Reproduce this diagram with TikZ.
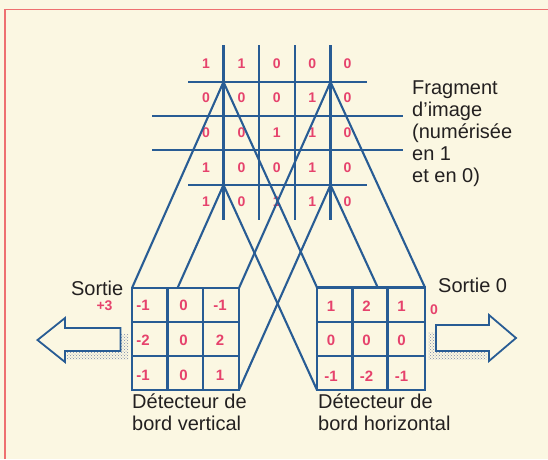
\documentclass[tikz,border=0pt]{standalone}
\usepackage{fontspec}
\setmainfont{Liberation Sans}
\usetikzlibrary{patterns}
\definecolor{bgc}{RGB}{251,247,226}
\definecolor{lblue}{RGB}{40,92,148}
\definecolor{dpink}{RGB}{230,66,108}
\definecolor{framered}{RGB}{238,112,112}
\definecolor{ink}{RGB}{35,32,32}
\definecolor{shade}{RGB}{120,135,170}
\begin{document}
\begin{tikzpicture}[x=1pt,y=-1pt,
  bl/.style={draw=lblue,line width=2.1pt},
  dig/.style={text=dpink,font=\fontsize{14}{16}\selectfont\bfseries,inner sep=0},
  kdig/.style={text=dpink,font=\fontsize{15}{17}\selectfont\bfseries,inner sep=0},
  lbl/.style={text=ink,font=\fontsize{20}{22}\selectfont,inner sep=0,align=left},
  cellbox/.style={draw=lblue,line width=2.1pt,fill=bgc},
  arrowshape/.style={draw=lblue,line width=1.8pt,fill=bgc,line join=miter},
  shadowfill/.style={pattern=crosshatch dots,pattern color=shade}
]
\fill[bgc] (0,0) rectangle (548,459);
\useasboundingbox (0,0) rectangle (548,459);
\draw[framered,line width=1.4pt] (5,459) -- (5,9.5) -- (548,9.5);

% image fragment grid
\foreach \x in {223.5,259,295,330.5} \draw[bl] (\x,45) -- (\x,220);
\draw[bl] (188,82) -- (367,82);
\draw[bl] (152,116) -- (403,116);
\draw[bl] (152,150) -- (403,150);
\draw[bl] (188,185) -- (367,185);

% digits of the fragment
\foreach \row [count=\r] in {{1,1,0,0,0},{0,0,0,1,0},{0,0,1,1,0},{1,0,0,1,0},{1,0,1,1,0}}{
  \foreach \v [count=\c] in \row {
    \pgfmathsetmacro{\gx}{206+35.4*(\c-1)}
    \pgfmathsetmacro{\gy}{63.5+34.6*(\r-1)}
    \node[dig] (g\r\c) at (\gx,\gy) {\v};
  }
}

% corners of the 3x3 region and of the two detectors
\coordinate (rTL) at (223.5,82);
\coordinate (rTR) at (330.5,82);
\coordinate (rBL) at (223.5,185);
\coordinate (rBR) at (330.5,185);
\coordinate (lTL) at (132,288);
\coordinate (lTR) at (239,288);
\coordinate (lBL) at (132,390);
\coordinate (lBR) at (239,390);
\coordinate (hTL) at (317,287.5);
\coordinate (hTR) at (425,287.5);
\coordinate (hBL) at (317,390);
\coordinate (hBR) at (425,390);

% projection lines
\draw[bl] (rTL) -- (lTL);
\draw[bl] (rTR) -- (lTR);
\draw[bl] (rBL) -- (lBL);
\draw[bl] (rBR) -- (lBR);
\draw[bl] (rTL) -- (hTL);
\draw[bl] (rTR) -- (hTR);
\draw[bl] (rBL) -- (hBL);
\draw[bl] (rBR) -- (hBR);

% vertical edge detector
\draw[cellbox] (lTL) rectangle (lBR);
\draw[bl] (167.5,288) -- (167.5,390) (203,288) -- (203,390)
          (132,322) -- (239,322) (132,356) -- (239,356);
% horizontal edge detector
\draw[cellbox] (hTL) rectangle (hBR);
\draw[bl] (352.5,287.5) -- (352.5,390) (387.5,287.5) -- (387.5,390)
          (317,321.7) -- (425,321.7) (317,356) -- (425,356);

% detector coefficients
\node[kdig] (v11) at (143,305.5) {-1};
\node[kdig] (v12) at (183.5,305.5) {0};
\node[kdig] (v13) at (220,305.5) {-1};
\node[kdig] (v21) at (143,340) {-2};
\node[kdig] (v22) at (183.5,340) {0};
\node[kdig] (v23) at (220,340) {2};
\node[kdig] (v31) at (143,375) {-1};
\node[kdig] (v32) at (183.5,375) {0};
\node[kdig] (v33) at (220,375) {1};

\node[kdig] (h11) at (331,306.5) {1};
\node[kdig] (h12) at (366.5,306.5) {2};
\node[kdig] (h13) at (401.5,306.5) {1};
\node[kdig] (h21) at (331,340) {0};
\node[kdig] (h22) at (366.5,340) {0};
\node[kdig] (h23) at (401.5,340) {0};
\node[kdig] (h31) at (331,376.5) {-1};
\node[kdig] (h32) at (366.5,376.5) {-2};
\node[kdig] (h33) at (401.5,376.5) {-1};

% output arrows
\fill[shadowfill] (67,334) rectangle (128.5,359.5);
\draw[arrowshape] (37.5,340) -- (65,318) -- (65,328) -- (120.5,328) -- (120.5,351) -- (65,351) -- (65,362) -- cycle;
\fill[shadowfill] (428,332) rectangle (487,359);
\draw[arrowshape] (516,338) -- (489,315) -- (489,325) -- (436,325) -- (436,351) -- (489,351) -- (489,361) -- cycle;

% labels
\node[lbl,anchor=base east] (sortieL) at (123.5,295) {Sortie};
\node[dig,anchor=base] (plus3) at (104.5,310) {+3};
\node[lbl,anchor=base west] (sortieR) at (438,292) {Sortie 0};
\node[dig,anchor=base] (zeroR) at (434,314) {0};
\node[lbl,anchor=north west] (frag) at (412,81) {Fragment\\d’image\\(numérisée\\en 1\\et en 0)};
\node[lbl,anchor=north west] (detv) at (132,393.5) {Détecteur de\\bord vertical};
\node[lbl,anchor=north west] (deth) at (318,393.5) {Détecteur de\\bord horizontal};
\end{tikzpicture}
\end{document}
